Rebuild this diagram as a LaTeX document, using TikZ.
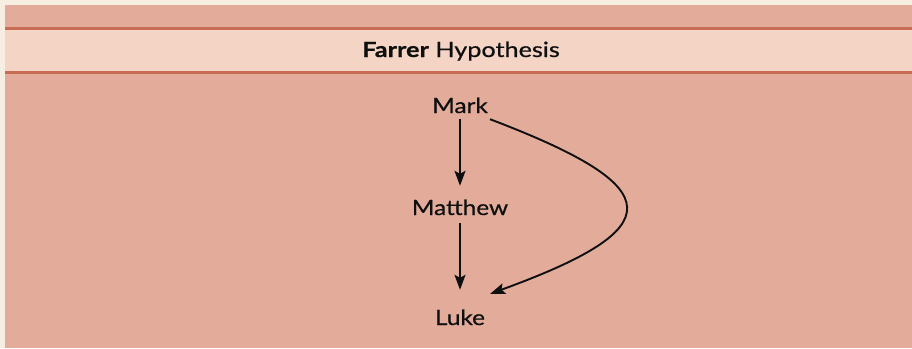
\documentclass[tikz,border=0pt]{standalone}
\usepackage{fontspec}
\setmainfont{Lato}
\newfontfamily\gospelfont[FakeStretch=1.16,FakeBold=0.6]{Lato}
\newfontfamily\titlefont[FakeStretch=1.2,FakeBold=0.6]{Lato}
\usetikzlibrary{arrows.meta}
\definecolor{bgpink}{RGB}{227,172,154}
\definecolor{bandpink}{RGB}{244,213,197}
\definecolor{rulered}{RGB}{200,108,86}
\definecolor{margincream}{RGB}{247,238,226}
\definecolor{ink}{RGB}{15,15,15}
\tikzset{
  gospel/.style={font=\gospelfont\fontsize{21}{25}\selectfont, text=ink, anchor=base,
    text height=15pt, text depth=0pt, inner xsep=2pt, inner ysep=6pt},
  title/.style={font=\titlefont\fontsize{21}{25}\selectfont, text=ink, anchor=base},
  infl/.style={draw=ink, line width=1.9pt,
    -{Stealth[length=15pt,width=11pt,inset=3pt]}},
  band rule/.style={draw=rulered, line width=3pt}
}
\begin{document}
\begin{tikzpicture}[x=1pt,y=-1pt]
\useasboundingbox (0,0) rectangle (912,348);
\fill[margincream] (0,0) rectangle (912,348);
\fill[bgpink] (5,5) rectangle (912,348);
\fill[bandpink] (5,28) rectangle (912,72);
\draw[band rule] (5,28) -- (912,28);
\draw[band rule] (5,72.5) -- (912,72.5);
\node[title] (title) at (461,57) {\textbf{Farrer} Hypothesis};
\node[gospel] (mark) at (460,113) {Mark};
\node[gospel] (matthew) at (460,215) {Matthew};
\node[gospel] (luke) at (460,325) {Luke};
\draw[infl, shorten >=8pt] (mark.south) -- (matthew.north);
\draw[infl, shorten <=2pt, shorten >=14pt] (matthew.south) -- (luke.north);
\draw[infl] (mark.south east) .. controls (671,188) and (671,228) .. ([xshift=3pt,yshift=10pt]luke.north east);
\end{tikzpicture}
\end{document}
